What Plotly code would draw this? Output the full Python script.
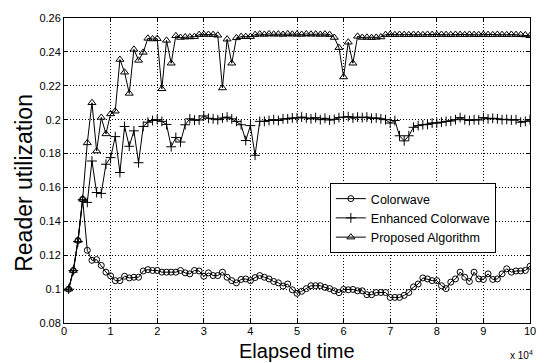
import plotly.graph_objects as go

elapsed = [i * 1000 for i in range(1, 101)]

colorwave = [
    0.100, 0.111, 0.1287, 0.153, 0.1229, 0.117, 0.1174, 0.114, 0.110, 0.1078,
    0.105, 0.105, 0.1076, 0.1066, 0.107, 0.107, 0.1107, 0.1115, 0.111, 0.111,
    0.110, 0.110, 0.110, 0.110, 0.111, 0.1096, 0.109, 0.111, 0.1107, 0.1076,
    0.1096, 0.108, 0.108, 0.110, 0.107, 0.105, 0.1037, 0.1057, 0.106, 0.105,
    0.1068, 0.108, 0.107, 0.106, 0.1045, 0.1037, 0.1018, 0.103, 0.0996, 0.0975,
    0.0987, 0.1003, 0.102, 0.102, 0.102, 0.101, 0.1003, 0.099, 0.0979, 0.0998,
    0.0996, 0.0998, 0.099, 0.099, 0.0967, 0.0967, 0.098, 0.098, 0.098, 0.0951,
    0.0951, 0.0951, 0.0963, 0.098, 0.1013, 0.103, 0.1066, 0.106, 0.105, 0.105,
    0.102, 0.1003, 0.1041, 0.106, 0.110, 0.107, 0.1045, 0.110, 0.106, 0.1057,
    0.109, 0.1057, 0.106, 0.109, 0.112, 0.110, 0.1107, 0.1107, 0.111, 0.1135,
]

enhanced = [
    0.100, 0.111, 0.128, 0.1528, 0.1512, 0.1756, 0.157, 0.1565, 0.1737, 0.1776,
    0.190, 0.1688, 0.196, 0.1843, 0.1934, 0.1746, 0.196, 0.1985, 0.1995, 0.200,
    0.199, 0.1972, 0.184, 0.1895, 0.1868, 0.197, 0.2005, 0.1997, 0.1998, 0.2022,
    0.2008, 0.2005, 0.200, 0.201, 0.2015, 0.2005, 0.199, 0.197, 0.1877, 0.1965,
    0.179, 0.199, 0.199, 0.1995, 0.200, 0.1995, 0.2005, 0.2005, 0.201, 0.201,
    0.2015, 0.201, 0.2005, 0.2012, 0.200, 0.2008, 0.1998, 0.2002, 0.2012, 0.2015,
    0.2018, 0.201, 0.2015, 0.2012, 0.2015, 0.2008, 0.201, 0.2005, 0.200, 0.198,
    0.1995, 0.1905, 0.1875, 0.1905, 0.1955, 0.1965, 0.197, 0.1972, 0.198, 0.198,
    0.1985, 0.199, 0.1992, 0.200, 0.2012, 0.200, 0.1995, 0.200, 0.1998, 0.2012,
    0.2005, 0.2008, 0.2005, 0.200, 0.2002, 0.1998, 0.200, 0.1985, 0.199, 0.200,
]

proposed = [
    0.100, 0.111, 0.1288, 0.153, 0.1863, 0.210, 0.1815, 0.2013, 0.1916, 0.2034,
    0.205, 0.2355, 0.228, 0.2155, 0.2415, 0.235, 0.2397, 0.248, 0.2476, 0.2478,
    0.2182, 0.2468, 0.2333, 0.2495, 0.2485, 0.2488, 0.2488, 0.249, 0.2502, 0.2503,
    0.2503, 0.2502, 0.2498, 0.2187, 0.2475, 0.2333, 0.2483, 0.249, 0.249, 0.249,
    0.2502, 0.2505, 0.2503, 0.2506, 0.2504, 0.2505, 0.2503, 0.2506, 0.2504, 0.2505,
    0.2503, 0.2506, 0.2504, 0.2505, 0.2503, 0.2505, 0.2502, 0.2485, 0.2425, 0.2252,
    0.2457, 0.2333, 0.2492, 0.2485, 0.2486, 0.2484, 0.2486, 0.2488, 0.2502, 0.2503,
    0.2501, 0.2503, 0.2502, 0.2501, 0.2503, 0.2502, 0.2501, 0.2503, 0.2502, 0.2501,
    0.2503, 0.2502, 0.2501, 0.2503, 0.2502, 0.2501, 0.2503, 0.2502, 0.2501, 0.2503,
    0.2502, 0.2501, 0.2503, 0.2502, 0.2501, 0.2503, 0.2502, 0.2501, 0.2500, 0.2495,
]

x_tickvals = [i * 10000 for i in range(11)]
x_ticktext = [str(i) for i in range(11)]
y_tickvals = [0.08, 0.10, 0.12, 0.14, 0.16, 0.18, 0.20, 0.22, 0.24, 0.26]
y_ticktext = ["0.08", "0.1", "0.12", "0.14", "0.16", "0.18", "0.2", "0.22", "0.24", "0.26"]

FONT = "Liberation Sans, Arial, sans-serif"

fig = go.Figure()
fig.add_trace(go.Scatter(
    x=elapsed, y=colorwave, name="Colorwave", mode="lines+markers",
    line=dict(color="black", width=1),
    marker=dict(symbol="circle-open", size=6, color="black", line=dict(width=1, color="black")),
))
fig.add_trace(go.Scatter(
    x=elapsed, y=enhanced, name="Enhanced Colorwave", mode="lines+markers",
    line=dict(color="black", width=1),
    marker=dict(symbol="cross-thin-open", size=7, color="black", line=dict(width=1, color="black")),
))
fig.add_trace(go.Scatter(
    x=elapsed, y=proposed, name="Proposed Algorithm", mode="lines+markers",
    line=dict(color="black", width=1),
    marker=dict(symbol="triangle-up-open", size=7, color="black", line=dict(width=1, color="black")),
))

axis_common = dict(
    showline=True, mirror="ticks", linecolor="black", linewidth=1,
    ticks="inside", ticklen=4, tickcolor="black",
    showgrid=True, gridcolor="black", gridwidth=1, griddash="1px,2px",
    zeroline=False,
)

fig.update_xaxes(range=[0, 100000], tickmode="array", tickvals=x_tickvals,
                 ticktext=x_ticktext, tickfont=dict(family=FONT, size=11, color="black"),
                 ticklabelstandoff=-2, **axis_common)
fig.update_yaxes(range=[0.08, 0.26], tickmode="array", tickvals=y_tickvals,
                 ticktext=y_ticktext, tickfont=dict(family=FONT, size=11, color="black"),
                 **axis_common)

fig.update_layout(
    width=548, height=363,
    margin=dict(l=64, r=13, t=16, b=40),
    paper_bgcolor="white", plot_bgcolor="white",
    font=dict(family=FONT, color="black"),
    showlegend=True,
    legend=dict(
        x=0.5705, y=0.459, xanchor="left", yanchor="top",
        bgcolor="white", bordercolor="black", borderwidth=1,
        font=dict(family=FONT, size=12.5, color="black"),
        itemwidth=30, tracegroupgap=0,
    ),
    annotations=[
        dict(text="Elapsed time", xref="paper", yref="paper", x=0.5, y=-0.13,
             xanchor="center", yanchor="bottom", showarrow=False, borderpad=0,
             font=dict(family=FONT, size=20, color="black")),
        dict(text="Reader utilization", xref="paper", yref="paper", x=-0.085, y=0.461,
             xanchor="center", yanchor="middle", showarrow=False, textangle=-90,
             font=dict(family=FONT, size=23, color="black")),
        dict(text="x 10<sup>4</sup>", xref="paper", yref="paper", x=1.01, y=-0.13,
             xanchor="right", yanchor="bottom", showarrow=False,
             font=dict(family=FONT, size=10, color="black")),
    ],
)

fig.write_html("out.html")
